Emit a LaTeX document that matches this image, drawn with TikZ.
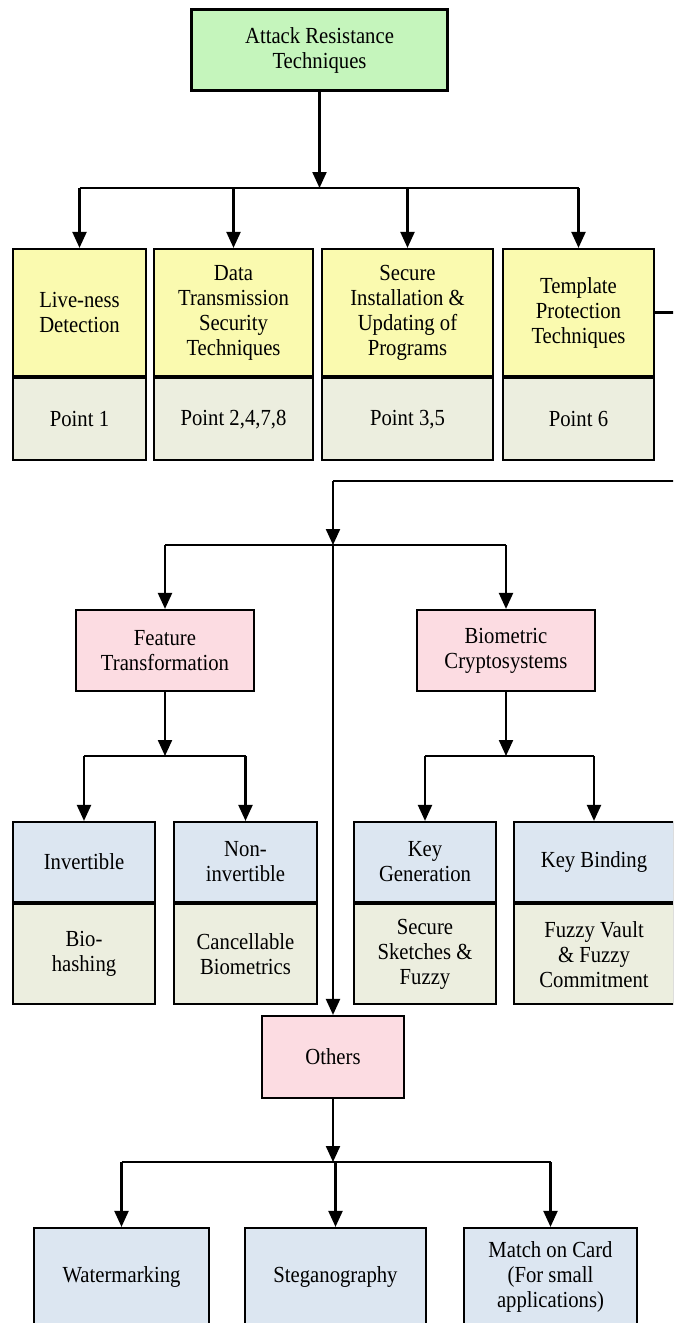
\documentclass[tikz,border=0pt]{standalone}
\usepackage{fontspec}
\setmainfont{Liberation Serif}[FakeStretch=0.9]
\usetikzlibrary{arrows.meta}
\definecolor{artgreen}{HTML}{C5F5BC}
\definecolor{techyellow}{HTML}{FAFAAF}
\definecolor{ptgrey}{HTML}{ECEEDF}
\definecolor{catpink}{HTML}{FCDCE2}
\definecolor{leafblue}{HTML}{DCE6F1}
\tikzset{
  cell/.style={draw, line width=2.2pt, align=center, inner sep=2pt,
    font=\fontsize{23}{25}\selectfont},
  topbox/.style={cell, fill=artgreen, minimum width=256pt, minimum height=81pt},
  techbox/.style={cell, fill=techyellow, minimum height=127pt},
  ptbox/.style={cell, fill=ptgrey, minimum height=82pt, anchor=north},
  catbox/.style={cell, fill=catpink, minimum height=81pt},
  leafbox/.style={cell, fill=leafblue, minimum height=80pt},
  flow/.style={line width=2.2pt, -{Triangle[length=16pt,width=14pt]}},
  bus/.style={line width=2.6pt}
}
\begin{document}
\begin{tikzpicture}[x=1pt,y=-1pt]
  \useasboundingbox (0,0) rectangle (673,1323);
  \fill[white] (0,0) rectangle (673,1323);
  \clip (0,0) rectangle (673,1323);

  % root
  \node[topbox] (art) at (319.5,50) {Attack Resistance\\Techniques};
  \coordinate (bus1) at (319.5,188);
  \draw[flow] (art) -- (bus1);

  % first level
  \node[techbox, minimum width=133pt] (live) at (79.5,312.5) {Live-ness\\Detection};
  \node[techbox, minimum width=159pt] (data) at (233.5,312.5) {Data\\Transmission\\Security\\Techniques};
  \node[techbox, minimum width=171pt] (inst) at (407.5,312.5) {Secure\\Installation \&\\Updating of\\Programs};
  \node[techbox, minimum width=151pt] (tmpl) at (578.5,312.5) {Template\\Protection\\Techniques};
  \node[ptbox, minimum width=133pt] (livept) at (live.south) {Point 1};
  \node[ptbox, minimum width=159pt] (datapt) at (data.south) {Point 2,4,7,8};
  \node[ptbox, minimum width=171pt] (instpt) at (inst.south) {Point 3,5};
  \node[ptbox, minimum width=151pt] (tmplpt) at (tmpl.south) {Point 6};
  \draw[bus] (live.north |- bus1) -- (tmpl.north |- bus1);
  \foreach \n in {live,data,inst,tmpl}
    \draw[flow] (\n.north |- bus1) -- (\n.north);

  % template protection branch
  \coordinate (loopin) at (333,481);
  \coordinate (bus2) at (333,545);
  \draw[bus] (tmpl.east) -- ++(40,0) |- (loopin);
  \draw[flow] (loopin) -- (bus2);

  \node[catbox, minimum width=178pt] (feat) at (165,650.5) {Feature\\Transformation};
  \node[catbox, minimum width=178pt] (bcs) at (506,650.5) {Biometric\\Cryptosystems};
  \node[catbox, minimum width=142pt, minimum height=82pt] (oth) at (333,1057) {Others};
  \draw[bus] (feat.north |- bus2) -- (bcs.north |- bus2);
  \draw[flow] (feat.north |- bus2) -- (feat.north);
  \draw[flow] (bcs.north |- bus2) -- (bcs.north);
  \draw[flow] (bus2) -- (oth.north);

  % feature transformation
  \node[leafbox, minimum width=142pt] (inv) at (84,862) {Invertible};
  \node[leafbox, minimum width=143pt] (ninv) at (245.5,862) {Non-\\invertible};
  \node[ptbox, minimum width=142pt, minimum height=100pt] (invpt) at (inv.south) {Bio-\\hashing};
  \node[ptbox, minimum width=143pt, minimum height=100pt] (ninvpt) at (ninv.south) {Cancellable\\Biometrics};
  \coordinate (bus3) at (165,756);
  \draw[flow] (feat) -- (bus3);
  \draw[bus] (inv.north |- bus3) -- (ninv.north |- bus3);
  \draw[flow] (inv.north |- bus3) -- (inv.north);
  \draw[flow] (ninv.north |- bus3) -- (ninv.north);

  % biometric cryptosystems
  \node[leafbox, minimum width=142pt] (kgen) at (425,862) {Key\\Generation};
  \node[leafbox, minimum width=160pt] (kbind) at (594,862) {Key Binding};
  \node[ptbox, minimum width=142pt, minimum height=100pt] (kgenpt) at (kgen.south) {Secure\\Sketches \&\\Fuzzy};
  \node[ptbox, minimum width=160pt, minimum height=100pt] (kbindpt) at (kbind.south) {Fuzzy Vault\\\& Fuzzy\\Commitment};
  \coordinate (bus4) at (506,756);
  \draw[flow] (bcs) -- (bus4);
  \draw[bus] (kgen.north |- bus4) -- (kbind.north |- bus4);
  \draw[flow] (kgen.north |- bus4) -- (kgen.north);
  \draw[flow] (kbind.north |- bus4) -- (kbind.north);

  % others
  \node[leafbox, minimum width=175pt, minimum height=98pt] (wm) at (121.5,1277) {Watermarking};
  \node[leafbox, minimum width=181pt, minimum height=98pt] (steg) at (335.5,1277) {Steganography};
  \node[leafbox, minimum width=173pt, minimum height=98pt] (moc) at (550.5,1277) {Match on Card\\(For small\\applications)};
  \coordinate (bus5) at (333,1162);
  \draw[flow] (oth) -- (bus5);
  \draw[bus] (wm.north |- bus5) -- (moc.north |- bus5);
  \foreach \n in {wm,steg,moc}
    \draw[flow] (\n.north |- bus5) -- (\n.north);
\end{tikzpicture}
\end{document}
